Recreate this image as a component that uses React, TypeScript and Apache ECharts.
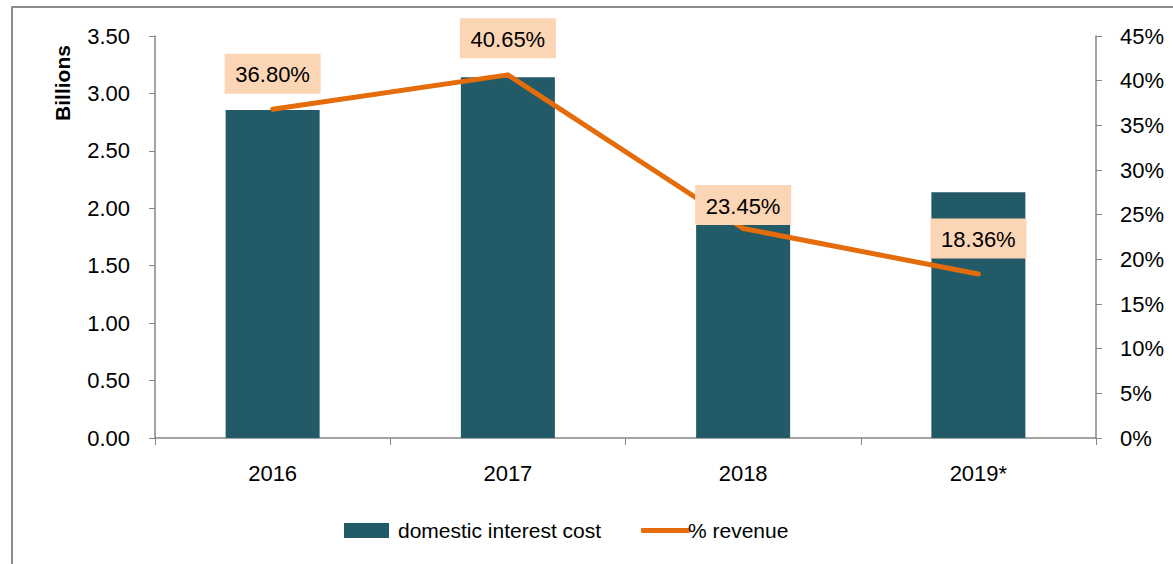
import React, { useEffect, useRef } from "react";
import * as echarts from "echarts";

const categories = ["2016", "2017", "2018", "2019*"];
const interestCost = [2.855, 3.14, 2.05, 2.14];
const revenuePct = [36.8, 40.65, 23.45, 18.36];
const pctLabels = ["36.80%", "40.65%", "23.45%", "18.36%"];
const labelDistances = [15, 16, 3, 15];

const FONT = "'Liberation Sans', Arial, sans-serif";

export default function App() {
  const ref = useRef<HTMLDivElement>(null);
  useEffect(() => {
    if (!ref.current) return;
    const chart = echarts.init(ref.current, null, { renderer: "svg" });
    chart.setOption({
      animation: false,
      backgroundColor: "#ffffff",
      textStyle: { fontFamily: FONT },
      grid: { left: 155, right: 77, top: 36, bottom: 126, containLabel: false },
      legend: [
        {
          data: [{ name: "domestic interest cost", icon: "rect" }],
          left: 339,
          top: 515,
          itemWidth: 45,
          itemHeight: 15,
          itemGap: 10,
          textStyle: { fontSize: 21, color: "#000", fontFamily: FONT, padding: [0, 0, 0, 4] },
        },
        {
          data: [{ name: "% revenue", icon: "roundRect", itemStyle: { color: "#E46C0A" } }],
          left: 636,
          top: 515,
          itemWidth: 49,
          itemHeight: 5,
          textStyle: { fontSize: 21, color: "#000", fontFamily: FONT, padding: [0, 0, 0, -7] },
        },
      ],
      xAxis: {
        type: "category",
        data: categories,
        axisLine: { show: true, lineStyle: { color: "#868686", width: 1.5 } },
        axisTick: { show: true, length: 7, lineStyle: { color: "#868686" } },
        axisLabel: { color: "#000", fontSize: 22, margin: 24, fontFamily: FONT },
      },
      yAxis: [
        {
          type: "value",
          min: 0,
          max: 3.5,
          interval: 0.5,
          splitLine: { show: false },
          axisLine: { show: true, lineStyle: { color: "#868686", width: 1.5 } },
          axisTick: { show: true, length: 6, lineStyle: { color: "#868686" } },
          axisLabel: {
            color: "#000",
            fontSize: 22,
            margin: 25,
            fontFamily: FONT,
            formatter: (v: number) => v.toFixed(2),
          },
        },
        {
          type: "value",
          min: 0,
          max: 45,
          interval: 5,
          position: "right",
          splitLine: { show: false },
          axisLine: { show: true, lineStyle: { color: "#868686", width: 1.5 } },
          axisTick: { show: true, length: 6, lineStyle: { color: "#868686" } },
          axisLabel: {
            color: "#000",
            fontSize: 22,
            margin: 24,
            fontFamily: FONT,
            formatter: (v: number) => v + "%",
          },
        },
      ],
      graphic: [
        {
          type: "rect",
          shape: { x: 12, y: 7, width: 1200, height: 600 },
          style: { fill: "none", stroke: "#8c8c8c", lineWidth: 2 },
          silent: true,
          z: -10,
        },
        {
          type: "text",
          x: 62,
          y: 83,
          rotation: Math.PI / 2,
          style: {
            text: "Billions",
            fontSize: 21,
            fontWeight: "bold",
            fill: "#000",
            fontFamily: FONT,
            align: "center",
            verticalAlign: "middle",
          },
        },
      ],
      series: [
        {
          name: "domestic interest cost",
          type: "bar",
          data: interestCost,
          yAxisIndex: 0,
          barWidth: 94,
          itemStyle: { color: "#225A67" },
          z: 1,
        },
        {
          name: "% revenue",
          type: "line",
          yAxisIndex: 1,
          data: revenuePct.map((v, i) => ({
            value: v,
            label: { distance: labelDistances[i] },
          })),
          symbol: "circle",
          symbolSize: 1,
          showSymbol: true,
          lineStyle: { color: "#E46C0A", width: 5, cap: "round", join: "round" },
          itemStyle: { color: "#E46C0A" },
          z: 3,
          label: {
            show: true,
            position: "top",
            formatter: (p: any) => pctLabels[p.dataIndex],
            backgroundColor: "#FCD5B4",
            color: "#000",
            fontSize: 22,
            fontFamily: FONT,
            width: 76,
            height: 24,
            padding: [8, 10],
          },
        },
      ],
    });
    return () => chart.dispose();
  }, []);
  return (
    <div
      ref={ref}
      style={{ position: "fixed", left: 0, top: 0, width: 1173, height: 564 }}
    />
  );
}
